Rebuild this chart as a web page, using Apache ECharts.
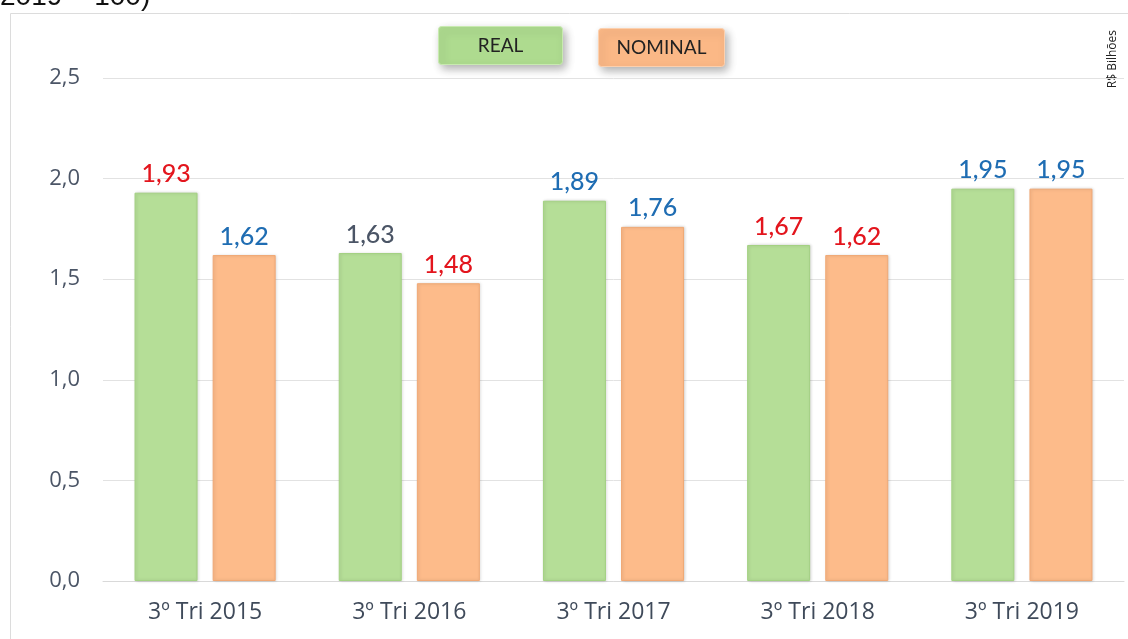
<!DOCTYPE html>
<html>
<head>
<meta charset="utf-8">
<title>Real x Nominal</title>
<script src="https://cdn.jsdelivr.net/npm/echarts@6/dist/echarts.min.js"></script>
</head>
<body style="margin:0;padding:0;background:#fff">
<div id="chart" style="width:1128px;height:639px"></div>
<script>
// dados
var categories = ['3º Tri 2015', '3º Tri 2016', '3º Tri 2017', '3º Tri 2018', '3º Tri 2019'];
var realValues = [1.93, 1.63, 1.89, 1.67, 1.95];
var nominalValues = [1.62, 1.48, 1.76, 1.62, 1.95];
var realLabelColors = ['#e3151d', '#4b5566', '#1f6db3', '#e3151d', '#1f6db3'];
var nominalLabelColors = ['#1f6db3', '#e3151d', '#1f6db3', '#e3151d', '#1f6db3'];

function fmt(v, d) {
	return v.toFixed(d).replace('.', ',');
}

function barData(values, colors) {
	return values.map(function (v, i) {
		return { value: v, label: { color: colors[i] } };
	});
}

var chart = echarts.init(document.getElementById('chart'));

var labelStyle = {
	show: true,
	position: 'top',
	distance: 6,
	fontSize: 25,
	fontWeight: 500,
	fontFamily: 'Lato',
	formatter: function (p) { return fmt(p.value, 2); }
};

var option = {
	backgroundColor: '#fff',
	animation: false,
	grid: { left: 103, right: 4, top: 78, bottom: 58 },
	xAxis: {
		type: 'category',
		data: categories,
		axisLine: { lineStyle: { color: '#d9d9d9' } },
		axisTick: { show: false },
		axisLabel: { color: '#3f4a5a', fontSize: 23, fontFamily: 'Open Sans', margin: 20 }
	},
	yAxis: {
		type: 'value',
		min: 0,
		max: 2.5,
		interval: 0.5,
		axisLine: { show: false },
		axisTick: { show: false },
		splitLine: { lineStyle: { color: '#e2e2e2' } },
		axisLabel: {
			color: '#4b5566',
			fontSize: 22,
			fontFamily: 'Open Sans',
			margin: 23,
			formatter: function (v) { return fmt(v, 1); }
		}
	},
	graphic: [
		{
			type: 'text', left: 0, top: -17,
			style: { text: '2019 = 100)', fontSize: 28, fontFamily: 'Liberation Sans', fill: '#111' }
		},
		{
			type: 'rect', left: 8, top: 11, z: -1,
			shape: { width: 1200, height: 700 },
			style: { fill: 'none', stroke: '#dcdcdc', lineWidth: 1 }
		},
		{
			type: 'text', left: 1107, top: 30, rotation: Math.PI / 2,
			style: { text: 'R$ Bilhões', fontSize: 12, fontFamily: 'Open Sans', fill: '#222' }
		},
		{
			type: 'group', left: 438, top: 26,
			children: [
				{
					type: 'rect',
					shape: { width: 124, height: 38, r: 3 },
					style: {
						fill: '#aedb8f', stroke: '#c8eab0', lineWidth: 1,
						shadowBlur: 8, shadowOffsetX: 3, shadowOffsetY: 4, shadowColor: 'rgba(0,0,0,0.3)'
					}
				},
				{
					type: 'text', x: 62, y: 19,
					style: { text: 'REAL', fontSize: 19, fontFamily: 'Lato', fill: '#222', align: 'center', verticalAlign: 'middle' }
				}
			]
		},
		{
			type: 'group', left: 598, top: 28,
			children: [
				{
					type: 'rect',
					shape: { width: 126, height: 38, r: 3 },
					style: {
						fill: '#fbb886', stroke: '#fcd0ae', lineWidth: 1,
						shadowBlur: 8, shadowOffsetX: 3, shadowOffsetY: 4, shadowColor: 'rgba(0,0,0,0.3)'
					}
				},
				{
					type: 'text', x: 63, y: 19,
					style: { text: 'NOMINAL', fontSize: 19, fontFamily: 'Lato', fill: '#222', align: 'center', verticalAlign: 'middle' }
				}
			]
		}
	],
	series: [
		{
			name: 'REAL',
			type: 'bar',
			barWidth: 63,
			barGap: '24%',
			data: barData(realValues, realLabelColors),
			itemStyle: {
				color: '#b5de97',
				borderColor: '#a3d182',
				borderWidth: 1,
				shadowBlur: 3,
				shadowOffsetX: 1,
				shadowColor: 'rgba(0,0,0,0.15)'
			},
			label: labelStyle
		},
		{
			name: 'NOMINAL',
			type: 'bar',
			barWidth: 63,
			data: barData(nominalValues, nominalLabelColors),
			itemStyle: {
				color: '#fdbb8a',
				borderColor: '#f0a874',
				borderWidth: 1,
				shadowBlur: 3,
				shadowOffsetX: 1,
				shadowColor: 'rgba(0,0,0,0.15)'
			},
			label: labelStyle
		}
	]
};

chart.setOption(option);
</script>
</body>
</html>
